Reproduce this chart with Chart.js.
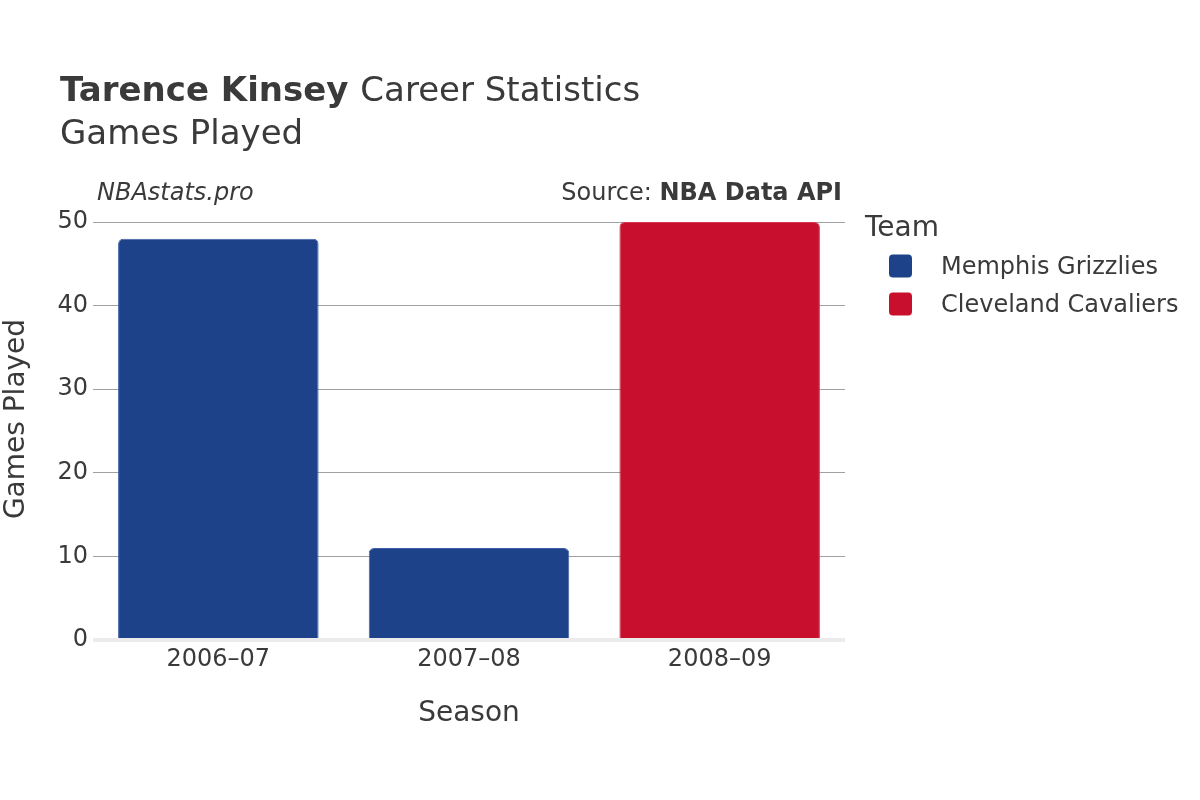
<!DOCTYPE html>
<html>
<head>
<meta charset="utf-8">
<script src="https://cdn.jsdelivr.net/npm/chart.js@4.4.1/dist/chart.umd.min.js"></script>
<style>
  html, body { margin: 0; padding: 0; background: #fff; }
  #wrap { width: 1200px; height: 800px; }
</style>
</head>
<body>
<div id="wrap"><canvas id="gp_Chart" width="1200" height="800"></canvas></div>
<script>
// data
const seasons = ['2006–07', '2007–08', '2008–09'];
const teams = ['Memphis Grizzlies', 'Cleveland Cavaliers'];
const memphis_games = [48, 11, null];
const cleveland_games = [null, null, 50];
const team_colors = ['#1d428a', '#c8102e'];
const team_borders = ['#3f62a6', '#d6384f'];
const y_ticks = [0, 10, 20, 30, 40, 50];

const txt = '#3a3a3a';
const ff = '"DejaVu Sans", Verdana, sans-serif';

// titles, watermark, source, y title and the legend are drawn by hand
const headerPlugin = {
    id: 'header',
    afterDraw(chart) {
        const c = chart.ctx;
        c.save();
        c.fillStyle = txt;
        c.textBaseline = 'alphabetic';
        c.textAlign = 'left';

        c.font = 'bold 34px ' + ff;
        c.fillText('Tarence Kinsey', 60, 101);
        let w = c.measureText('Tarence Kinsey ').width;
        c.font = '34px ' + ff;
        c.fillText('Career Statistics', 60 + w, 101);
        c.fillText('Games Played', 60, 144);

        c.font = 'italic 24px ' + ff;
        c.fillText('NBAstats.pro', 97, 200);

        c.textAlign = 'right';
        c.font = 'bold 24px ' + ff;
        c.fillText('NBA Data API', 842, 200);
        let bw = c.measureText('NBA Data API').width;
        c.font = '24px ' + ff;
        c.fillText('Source: ', 842 - bw, 200);

        // y axis title
        c.save();
        c.translate(17, 419);
        c.rotate(-Math.PI / 2);
        c.textAlign = 'center';
        c.textBaseline = 'middle';
        c.font = '28px ' + ff;
        c.fillText('Games Played', 0, 0);
        c.restore();

        // legend
        c.textAlign = 'left';
        c.font = '28px ' + ff;
        c.fillText('Team', 865, 236);
        c.font = '24px ' + ff;
        c.textBaseline = 'middle';
        teams.forEach((t, i) => {
            let cy = 266 + i * 38;
            c.fillStyle = team_colors[i];
            c.beginPath();
            c.roundRect(889, cy - 11.5, 23, 23, 4);
            c.fill();
            c.fillStyle = txt;
            c.fillText(t, 941, cy + 2);
        });
        c.restore();
    }
};

let ctx = document.getElementById('gp_Chart');
let graphData = {
    type: 'bar',
    data: {
        labels: seasons,
        datasets: [
            {
                label: teams[0],
                data: memphis_games,
                backgroundColor: team_colors[0],
                borderColor: team_borders[0],
                borderWidth: 1,
                borderRadius: {topLeft: 5, topRight: 5},
                borderSkipped: 'start',
            },
            {
                label: teams[1],
                data: cleveland_games,
                backgroundColor: team_colors[1],
                borderColor: team_borders[1],
                borderWidth: 1,
                borderRadius: {topLeft: 5, topRight: 5},
                borderSkipped: 'start',
            },
        ]
    },
    options: {
        responsive: false,
        animation: false,
        grouped: false,
        categoryPercentage: 0.8,
        barPercentage: 1,
        layout: {
            padding: {top: 222, right: 355, bottom: 0, left: 0}
        },
        plugins: {
            legend: {display: false},
            tooltip: {enabled: false},
        },
        scales: {
            x: {
                grid: {display: false, drawTicks: false},
                border: {display: false},
                ticks: {
                    color: txt,
                    font: {family: ff, size: 24},
                    padding: 5,
                },
                title: {
                    display: true,
                    text: 'Season',
                    color: txt,
                    font: {family: ff, size: 28},
                    padding: {top: 0, bottom: 69},
                },
                afterFit(scale) { scale.height = 160; },
            },
            y: {
                min: 0,
                max: 50,
                afterBuildTicks(scale) {
                    scale.ticks = y_ticks.map(v => ({value: v}));
                },
                grid: {
                    color: c => c.tick && c.tick.value === 0 ? '#ebebeb' : '#a0a0a0',
                    lineWidth: c => c.tick && c.tick.value === 0 ? 4 : 1,
                    drawTicks: false,
                },
                border: {display: false},
                ticks: {
                    color: txt,
                    font: {family: ff, size: 24},
                    padding: 5,
                },
                afterFit(scale) { scale.width = 93; },
            }
        },
    },
    plugins: [headerPlugin]
};

let gp_Chart = new Chart(ctx, graphData);
</script>
</body>
</html>
